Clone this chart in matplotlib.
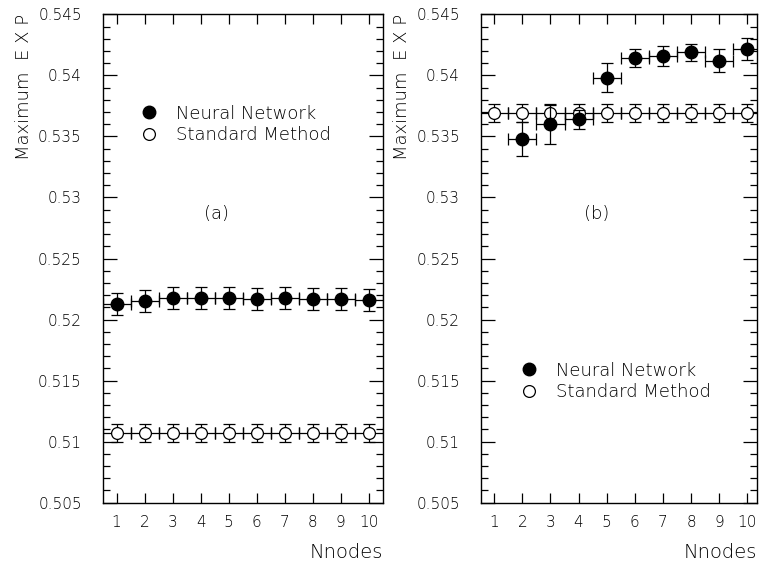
import matplotlib
matplotlib.use("Agg")
import matplotlib.pyplot as plt
from matplotlib.lines import Line2D
from matplotlib.ticker import MultipleLocator

# ---- data ----
nodes = [1, 2, 3, 4, 5, 6, 7, 8, 9, 10]
nn_a = [0.5213, 0.5215, 0.5218, 0.5218, 0.5218, 0.5217, 0.5218, 0.5217, 0.5217, 0.5216]
nn_a_err = [0.0009, 0.0009, 0.0009, 0.0009, 0.0009, 0.0009, 0.0009, 0.0009, 0.0009, 0.0009]
sm_a = [0.5107] * 10
sm_a_err = [0.00075] * 10

nodes_b_nn = [2, 3, 4, 5, 6, 7, 8, 9, 10]
nn_b = [0.5348, 0.5360, 0.5364, 0.5398, 0.5414, 0.5416, 0.5419, 0.5412, 0.5422]
nn_b_err = [0.0014, 0.0016, 0.0008, 0.0012, 0.00075, 0.0008, 0.0007, 0.00095, 0.0009]
sm_b = [0.5369] * 10
sm_b_err = [0.00075] * 10

x_half_width = 0.5
yticks = [0.505, 0.51, 0.515, 0.52, 0.525, 0.53, 0.535, 0.54, 0.545]
ytick_labels = ["0.505", "0.51", "0.515", "0.52", "0.525", "0.53", "0.535", "0.54", "0.545"]
legend_labels = ["Neural Network", "Standard Method"]

plt.rcParams['font.family'] = ['DejaVu Sans']
TFS = 11     # tick labels
LFS = 13     # legend / panel tag
XFS = 14     # x label
YFS = 13     # y label

fig = plt.figure(figsize=(7.65, 5.62), dpi=100)
axA = fig.add_axes([0.1342, 0.1055, 0.366, 0.869])
axB = fig.add_axes([0.6284, 0.1055, 0.3616, 0.869])

def style(ax, xlim):
    ax.set_xlim(*xlim)
    ax.set_ylim(0.505, 0.545)
    ax.set_xticks(nodes)
    ax.set_xticklabels([str(n) for n in nodes], fontsize=TFS, fontweight='light')
    ax.set_yticks(yticks)
    ax.set_yticklabels(ytick_labels, fontsize=TFS, fontweight='light')
    ax.yaxis.set_minor_locator(MultipleLocator(0.001))
    ax.tick_params(axis='both', which='both', direction='in', top=True, right=True, width=0.9)
    ax.tick_params(axis='y', which='major', length=10, pad=15)
    ax.tick_params(axis='y', which='minor', length=5)
    ax.tick_params(axis='x', which='major', length=7, pad=9)
    for s in ax.spines.values():
        s.set_linewidth(1.0)
    ax.set_ylabel("Maximum  E X P", loc='top', fontsize=YFS, fontweight='light', labelpad=4)
    ax.set_xlabel("Nnodes", loc='right', fontsize=XFS, fontweight='light', labelpad=9)

ekw = dict(ecolor='black', elinewidth=0.9, capsize=4.2, capthick=0.9, linestyle='none')

# Panel (a)
axA.errorbar(nodes, sm_a, xerr=x_half_width, yerr=sm_a_err, fmt='o', mfc='white', mec='black',
             ms=8.5, mew=0.9, zorder=3, **ekw)
axA.errorbar(nodes, nn_a, xerr=x_half_width, yerr=nn_a_err, fmt='o', mfc='black', mec='black',
             ms=9, zorder=4, **ekw)
style(axA, (0.5, 10.5))
axA.text(0.405, 0.591, "(a)", transform=axA.transAxes, fontsize=LFS, fontweight='light',
         ha='center', va='center')

# Panel (b)
axB.errorbar(nodes, sm_b, xerr=x_half_width, yerr=sm_b_err, fmt='o', mfc='white', mec='black',
             ms=8.5, mew=0.9, zorder=3, **ekw)
axB.errorbar(nodes_b_nn, nn_b, xerr=x_half_width, yerr=nn_b_err, fmt='o', mfc='black', mec='black',
             ms=9, zorder=4, **ekw)
style(axB, (0.52, 10.36))
axB.text(0.42, 0.591, "(b)", transform=axB.transAxes, fontsize=LFS, fontweight='light',
         ha='center', va='center')

handles = [Line2D([], [], marker='o', ls='none', mfc='black', mec='black', ms=9),
           Line2D([], [], marker='o', ls='none', mfc='white', mec='black', ms=8.5, mew=0.9)]
for ax, anchor in ((axA, (0.134, 0.7744)), (axB, (0.143, 0.2482))):
    ax.legend(handles, legend_labels, loc='center left', bbox_to_anchor=anchor, frameon=False,
              prop={'size': LFS, 'weight': 'light'}, handletextpad=1.0, labelspacing=0.2,
              handlelength=1.0, borderaxespad=0, borderpad=0)

fig.savefig("out.png", dpi=100)
